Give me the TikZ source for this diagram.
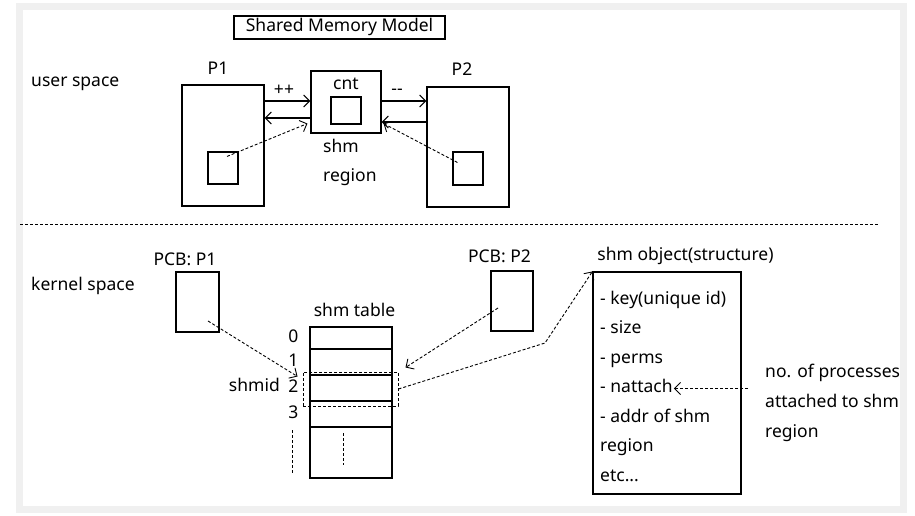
\documentclass[tikz,border=0pt]{standalone}
\usepackage{fontspec}
\setmainfont{Noto Sans}
\usetikzlibrary{positioning}
\usetikzlibrary{calc}
\usetikzlibrary{arrows,arrows.meta}
\definecolor{frame}{rgb}{0.94,0.94,0.94}

\begin{document}
\begin{tikzpicture}
    [x=1pt, y=-1pt, >={Straight Barb[length=6pt,width=12pt]},
    box/.style={draw, line width=1.1pt, inner sep=0pt},
    row/.style={draw, line width=1.4pt, minimum width=82pt, inner sep=0pt},
    txt/.style={inner sep=1pt, text height=12pt, text depth=4pt, font=\fontsize{17.5}{19}\selectfont},
    ptr/.style={->, densely dashed, line width=0.9pt},
    link/.style={->, line width=1.1pt}]
    \useasboundingbox (0,0) rectangle (915,516);
    \fill[frame] (16,3) rectangle (907,513);
    \fill[white] (23,10) rectangle (900,506);
    % user space
    \node[box, txt, minimum width=211pt, minimum height=23pt] (title) at (339.5,27.5) {Shared Memory Model};
    \node[txt, anchor=west] (us) at (30,83) {user space};
    \node[box, minimum width=82pt, minimum height=121pt] (p1) at (223,145.5) {};
    \node[box, minimum width=30pt, minimum height=32pt] (p1in) at (223,168) {};
    \node[txt] (p1l) at (218,71) {P1};
    \node[box, minimum width=70pt, minimum height=62pt] (shm) at (346,102) {};
    \node[box, minimum width=30pt, minimum height=27pt] (shmin) at (346,110.5) {};
    \node[txt] (cnt) at (346,86) {cnt};
    \node[txt, anchor=west] (shml) at (322,148) {shm};
    \node[txt, anchor=west] (regl) at (322,177) {region};
    \node[box, minimum width=82pt, minimum height=120pt] (p2) at (468,147) {};
    \node[box, minimum width=30pt, minimum height=33pt] (p2in) at (468,168.5) {};
    \node[txt] (p2l) at (462,72) {P2};
    \node[txt] (inc) at (284,92) {++};
    \node[txt] (dec) at (397,91) {-{}-};
    \draw[link] (p1.east |- 0,101) -- (shm.west |- 0,101);
    \draw[link] (shm.west |- 0,118) -- (p1.east |- 0,118);
    \draw[link] (shm.east |- 0,101) -- (p2.west |- 0,101);
    \draw[link] (p2.west |- 0,122) -- (shm.east |- 0,122);
    \draw[ptr] ($(p1in.north)+(4,5)$) -- ($(shm.south west)+(-3,-10)$);
    \draw[ptr] ($(p2in.west)+(5,-6)$) -- ($(shm.south east)+(2,-10)$);
    \draw[densely dashed, line width=1pt] (20,224) -- (878,224);
    % kernel space
    \node[txt, anchor=west] (ks) at (30,286) {kernel space};
    \node[box, minimum width=43pt, minimum height=60pt] (pcb1) at (197.5,302) {};
    \node[txt] (pcb1l) at (185,261) {PCB: P1};
    \node[box, minimum width=42pt, minimum height=60pt] (pcb2) at (512,301) {};
    \node[txt] (pcb2l) at (499.5,258) {PCB: P2};
    \node[txt] (tabl) at (354.5,312) {shm table};
    \foreach \k/\yc/\h in {0/338/22, 1/362/26, 2/388/26, 3/414/26}{
        \node[row, minimum height=\h pt] (r\k) at (351,\yc) {};
        \node[txt] (n\k) at ([xshift=-16pt]r\k.west) {\k};
    }
    \node[row, minimum height=51pt] (rest) at (351,452.5) {};
    \draw[densely dashed, line width=1pt] (343,433) -- (343,465);
    \draw[densely dashed, line width=1pt] (292,430) -- (292,473);
    \node[txt, anchor=east] (shmid) at (281,387) {shmid};
    \node[draw, densely dashed, line width=1pt, minimum width=95pt, minimum height=34pt] (sel) at (350.5,389) {};
    \draw[ptr] ($(pcb1.center)+(10.5,19)$) -- ($(sel.north west)+(-5,5)$);
    \draw[ptr] ($(pcb2.center)+(-14,7)$) -- ($(sel.north east)+(7,-4)$);
    % shm object
    \node[box, minimum width=148pt, minimum height=222pt] (obj) at (667,383) {};
    \node[txt] (objl) at (685.5,256) {shm object(structure)};
    \coordinate (bend) at (545,343);
    \draw[ptr] (sel.east) -- (bend) -- (obj.north west);
    \foreach \t [count=\k] in {- key(unique id), - size, - perms, - nattach, - addr of shm, region, {etc.{}.{}.}}
        \node[txt, anchor=west] (it\k) at (599,{270.5+\k*29.5}) {\t};
    \node[txt, anchor=west] (nt1) at (764,373) {no. of processes};
    \node[txt, anchor=west] (nt2) at (764,403) {attached to shm};
    \node[txt, anchor=west] (nt3) at (764,433) {region};
    \draw[ptr] ($(nt1.west |- it4.east)+(-16,0)$) -- (it4.east);
\end{tikzpicture}
\end{document}
